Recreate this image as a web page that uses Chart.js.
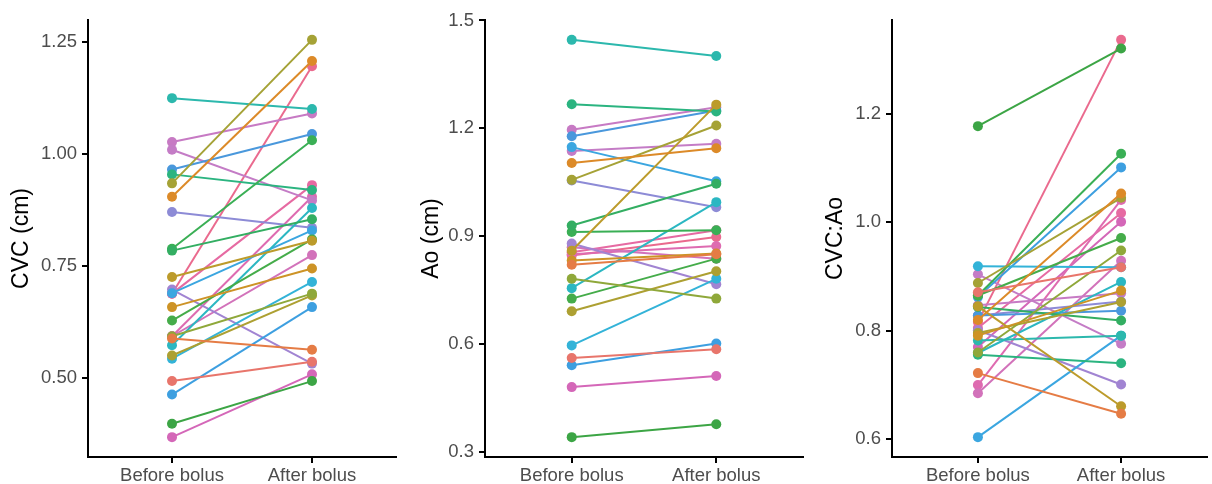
<!DOCTYPE html>
<html>
<head>
<meta charset="utf-8">
<script src="https://cdn.jsdelivr.net/npm/chart.js@4.4.1/dist/chart.umd.min.js"></script>
<style>
    body { margin: 0; background: #fff; }
    .panel { position: absolute; top: 0; }
</style>
</head>
<body>
<div class="panel" style="left:0px"><canvas id="cvcChart" width="404" height="484"></canvas></div>
<div class="panel" style="left:404px"><canvas id="aoChart" width="404" height="484"></canvas></div>
<div class="panel" style="left:808px"><canvas id="ratioChart" width="404" height="484"></canvas></div>
<script>
// time points on the x axis
const timepoints = ['Before bolus', 'After bolus'];

// one colour per subject (same subject = same colour in all 3 panels)
const subjectColors = [
    '#E8756B', '#E57C45', '#DC8A28', '#CD9326', '#BC9B2B', '#A5A236', '#8FA83A',
    '#ADA032', '#3CA545', '#45AC4A', '#33AE62', '#3AAF55', '#2BB480', '#2CB8AD',
    '#2BB7C2', '#33B3D8', '#3BA6E0', '#4A98DC', '#3D9FE0', '#8D8BD6', '#A184D2',
    '#C47CC6', '#C77AC4', '#D272BA', '#DE6BB0', '#D467B8', '#E66AA2', '#EA6A8E'
];

// CVC (cm)
const cvcBefore = [0.494, 0.589, 0.905, 0.659, 0.726, 0.935, 0.594, 0.551, 0.399, 0.629, 0.785, 0.789, 0.955, 1.125,
                   0.574, 0.544, 0.690, 0.966, 0.464, 0.871, 0.698, 1.010, 1.027, 0.594, 0.594, 0.369, 0.689, 0.689];
const cvcAfter  = [0.537, 0.564, 1.208, 0.745, 0.807, 1.255, 0.689, 0.685, 0.494, 0.810, 0.855, 1.031, 0.920, 1.101,
                   0.880, 0.715, 0.830, 1.045, 0.659, 0.836, 0.533, 0.897, 1.091, 0.775, 0.905, 0.509, 0.931, 1.196];

// Ao (cm)
const aoBefore = [0.562, 0.821, 1.104, 0.833, 0.860, 1.057, 0.782, 0.692, 0.342, 0.727, 0.930, 0.912, 1.267, 1.446,
                  0.756, 0.597, 1.148, 1.178, 0.542, 1.055, 0.880, 1.137, 1.196, 0.870, 0.850, 0.481, 0.856, 0.847];
const aoAfter  = [0.586, 0.850, 1.145, 0.852, 1.266, 1.208, 0.727, 0.803, 0.378, 0.838, 1.046, 0.917, 1.247, 1.401,
                  0.995, 0.782, 1.053, 1.250, 0.602, 0.981, 0.767, 1.157, 1.259, 0.838, 0.873, 0.512, 0.917, 0.898];

// CVC:Ao
const ratioBefore = [0.871, 0.722, 0.820, 0.791, 0.845, 0.888, 0.760, 0.796, 1.177, 0.865, 0.844, 0.865, 0.756, 0.782,
                     0.759, 0.919, 0.604, 0.828, 0.862, 0.828, 0.801, 0.904, 0.847, 0.685, 0.700, 0.770, 0.805, 0.816];
const ratioAfter  = [0.917, 0.647, 1.053, 0.874, 0.661, 1.045, 0.948, 0.853, 1.320, 0.971, 0.819, 1.126, 0.740, 0.791,
                     0.890, 0.917, 0.791, 0.837, 1.101, 0.854, 0.701, 0.776, 0.869, 0.929, 1.041, 1.001, 1.017, 1.336];

// tick labels
const cvcTicks = [0.50, 0.75, 1.00, 1.25];
const aoTicks = [0.3, 0.6, 0.9, 1.2, 1.5];
const ratioTicks = [0.6, 0.8, 1.0, 1.2];

Chart.defaults.font.family = "'Liberation Sans', Arial, sans-serif";
Chart.defaults.animation = false;

function makePanel(id, title, before, after, ticks, decimals, axisWidth, titlePad, rightPad) {
    // ggplot style 5% expansion around the data
    const lo = Math.min(...before, ...after);
    const hi = Math.max(...before, ...after);
    const pad = (hi - lo) * 0.05;

    const datasets = before.map((b, i) => ({
        data: [{ x: 1, y: b }, { x: 2, y: after[i] }],
        borderColor: subjectColors[i],
        backgroundColor: subjectColors[i],
        borderWidth: 2,
        pointRadius: 5,
        pointBorderWidth: 0,
        pointHoverRadius: 5
    }));

    return new Chart(document.getElementById(id).getContext('2d'), {
        type: 'line',
        data: { datasets: datasets },
        options: {
            responsive: false,
            layout: { padding: { top: 20, right: rightPad, left: 0, bottom: 0 } },
            plugins: { legend: { display: false }, tooltip: { enabled: false } },
            scales: {
                x: {
                    type: 'linear',
                    min: 0.4,
                    max: 2.6,
                    afterBuildTicks: s => { s.ticks = [{ value: 1 }, { value: 2 }]; },
                    afterFit: s => { s.height = 27; },
                    ticks: {
                        callback: v => timepoints[v - 1],
                        font: { size: 18.5 },
                        color: '#4D4D4D',
                        padding: 2,
                        maxRotation: 0,
                        autoSkip: false
                    },
                    grid: { drawOnChartArea: false, drawTicks: true, tickLength: 6, color: '#000', lineWidth: 2 },
                    border: { display: true, color: '#000', width: 2 }
                },
                y: {
                    type: 'linear',
                    min: lo - pad,
                    max: hi + pad,
                    afterBuildTicks: s => { s.ticks = ticks.map(v => ({ value: v })); },
                    afterFit: s => { s.width = axisWidth; },
                    ticks: {
                        callback: v => v.toFixed(decimals),
                        font: { size: 18.5 },
                        color: '#4D4D4D',
                        padding: 5
                    },
                    grid: { drawOnChartArea: false, drawTicks: true, tickLength: 6, color: '#000', lineWidth: 2 },
                    border: { display: true, color: '#000', width: 2 },
                    title: {
                        display: true,
                        text: title,
                        color: '#000',
                        font: { size: 23 },
                        padding: { top: titlePad, bottom: 0 }
                    }
                }
            }
        }
    });
}

makePanel('cvcChart', 'CVC (cm)', cvcBefore, cvcAfter, cvcTicks, 2, 88, 8, 8);
makePanel('aoChart', 'Ao (cm)', aoBefore, aoAfter, aoTicks, 1, 81, 14, 5);
makePanel('ratioChart', 'CVC:Ao', ratioBefore, ratioAfter, ratioTicks, 1, 84, 14, 3);
</script>
</body>
</html>
